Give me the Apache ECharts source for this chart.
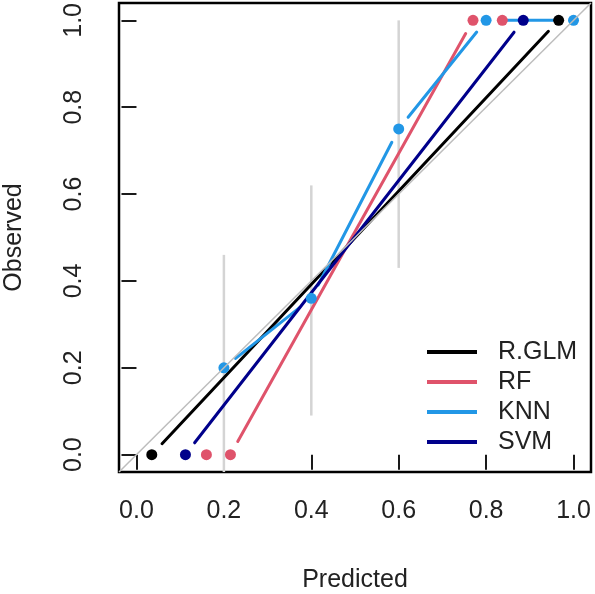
<!DOCTYPE html>
<html>
<head>
<meta charset="utf-8">
<script src="https://cdn.jsdelivr.net/npm/echarts@6/dist/echarts.min.js"></script>
<style>
html,body{margin:0;padding:0;background:#fff;}
#chart{width:595px;height:594px;}
</style>
</head>
<body>
<div id="chart"></div>
<script>
// Tick positions and labels
const xTicks = [0, 0.2, 0.4, 0.6, 0.8, 1.0];
const xTickLabels = ['0.0', '0.2', '0.4', '0.6', '0.8', '1.0'];
const yTicks = [0, 0.2, 0.4, 0.6, 0.8, 1.0];
const yTickLabels = ['0.0', '0.2', '0.4', '0.6', '0.8', '1.0'];

// Model series (predicted, observed)
const modelNames = ['R.GLM', 'RF', 'KNN', 'SVM'];
const glmX = [0.035, 0.966];
const glmY = [0, 1];
const rfX = [0.160, 0.215, 0.770, 0.837];
const rfY = [0, 0, 1, 1];
const knnX = [0.2, 0.4, 0.6, 0.8, 1.0];
const knnY = [0.2, 0.36, 0.75, 1, 1];
const svmX = [0.112, 0.885];
const svmY = [0, 1];

// Confidence bars (KNN bins)
const ciX = [0.2, 0.4, 0.6];
const ciLow = [-0.06, 0.09, 0.43];
const ciHigh = [0.46, 0.62, 1.0];

// Perfect-calibration reference line ends
const refLine = [-0.04, 1.04];

const colors = {'R.GLM': '#000000', 'RF': '#DF536B', 'KNN': '#2297E6', 'SVM': '#00008B'};
const FONT = 'Liberation Sans, Arial, Helvetica, sans-serif';
const GAP = 15;

function segs(xs, ys) {
  const out = [];
  for (let i = 0; i < xs.length - 1; i++) out.push([xs[i], ys[i], xs[i + 1], ys[i + 1]]);
  return out;
}
function pts(xs, ys) { return xs.map((x, i) => [x, ys[i]]); }

function gappedLine(color) {
  return function (params, api) {
    const p1 = api.coord([api.value(0), api.value(1)]);
    const p2 = api.coord([api.value(2), api.value(3)]);
    const dx = p2[0] - p1[0], dy = p2[1] - p1[1];
    const len = Math.sqrt(dx * dx + dy * dy);
    if (len <= 2 * GAP + 1) return null;
    const ux = dx / len, uy = dy / len;
    return {
      type: 'line',
      shape: {x1: p1[0] + ux * GAP, y1: p1[1] + uy * GAP, x2: p2[0] - ux * GAP, y2: p2[1] - uy * GAP},
      style: {stroke: color, lineWidth: 3, lineCap: 'round'}
    };
  };
}

const modelData = {
  'R.GLM': [glmX, glmY],
  'RF': [rfX, rfY],
  'KNN': [knnX, knnY],
  'SVM': [svmX, svmY]
};

const series = [
  {
    type: 'line', name: 'ref', data: [[refLine[0], refLine[0]], [refLine[1], refLine[1]]],
    showSymbol: false, symbol: 'none', lineStyle: {color: '#bdbdbd', width: 1.5}, silent: true, clip: true
  },
  {
    type: 'custom', name: 'ci', clip: true, silent: true,
    data: ciX.map((x, i) => [x, ciLow[i], ciHigh[i]]),
    encode: {x: 0, y: [1, 2]},
    renderItem: function (params, api) {
      const a = api.coord([api.value(0), api.value(1)]);
      const b = api.coord([api.value(0), api.value(2)]);
      return {type: 'line', shape: {x1: a[0], y1: a[1], x2: b[0], y2: b[1]}, style: {stroke: '#d4d4d4', lineWidth: 2.5}};
    }
  }
];

modelNames.forEach(function (n) {
  const xs = modelData[n][0], ys = modelData[n][1];
  series.push({
    type: 'custom', name: n, clip: true, silent: true,
    itemStyle: {color: colors[n]},
    data: segs(xs, ys),
    encode: {x: [0, 2], y: [1, 3]},
    renderItem: gappedLine(colors[n])
  });
  series.push({
    type: 'scatter', name: n, silent: true,
    data: pts(xs, ys), symbol: 'circle', symbolSize: 11,
    itemStyle: {color: colors[n], opacity: 1}
  });
});

const chart = echarts.init(document.getElementById('chart'), null, {renderer: 'canvas'});
chart.setOption({
  animation: false,
  backgroundColor: '#ffffff',
  grid: {left: 119, right: 4, top: 3, bottom: 122, show: true, borderColor: '#000', borderWidth: 2.5, backgroundColor: 'transparent', containLabel: false, outerBoundsMode: 'none'},
  xAxis: {
    type: 'value', min: refLine[0], max: refLine[1],
    name: 'Predicted', nameLocation: 'middle', nameGap: 108,
    nameTextStyle: {fontSize: 25, color: '#222', fontFamily: FONT, verticalAlign: 'middle'},
    axisLine: {show: false},
    splitLine: {show: false},
    axisTick: {show: true, length: 15, customValues: xTicks, lineStyle: {color: '#000', width: 1.8}},
    axisLabel: {
      customValues: xTicks, margin: 27, fontSize: 25, color: '#222', fontFamily: FONT,
      formatter: function (v) { const i = xTicks.findIndex(t => Math.abs(t - v) < 1e-9); return i >= 0 ? xTickLabels[i] : ''; }
    }
  },
  yAxis: {
    type: 'value', min: refLine[0], max: refLine[1],
    name: 'Observed', nameLocation: 'middle', nameGap: 105,
    nameTextStyle: {fontSize: 25, color: '#222', fontFamily: FONT, verticalAlign: 'middle'},
    axisLine: {show: false},
    splitLine: {show: false},
    axisTick: {show: true, length: 15, customValues: yTicks, lineStyle: {color: '#000', width: 1.8}},
    axisLabel: {
      customValues: yTicks, margin: 32, fontSize: 25, color: '#222', fontFamily: FONT, rotate: 90,
      formatter: function (v) { const i = yTicks.findIndex(t => Math.abs(t - v) < 1e-9); return i >= 0 ? yTickLabels[i] : ''; }
    }
  },
  legend: {
    orient: 'vertical', left: 427, top: 337, itemWidth: 50, itemHeight: 4, itemGap: 0, padding: 0,
    selectedMode: false,
    textStyle: {fontSize: 25, lineHeight: 30, color: '#222', fontFamily: FONT, padding: [0, 0, 0, 16]},
    data: modelNames.map(n => ({name: n, icon: 'rect', itemStyle: {color: colors[n]}}))
  },
  series: series
});
</script>
</body>
</html>
